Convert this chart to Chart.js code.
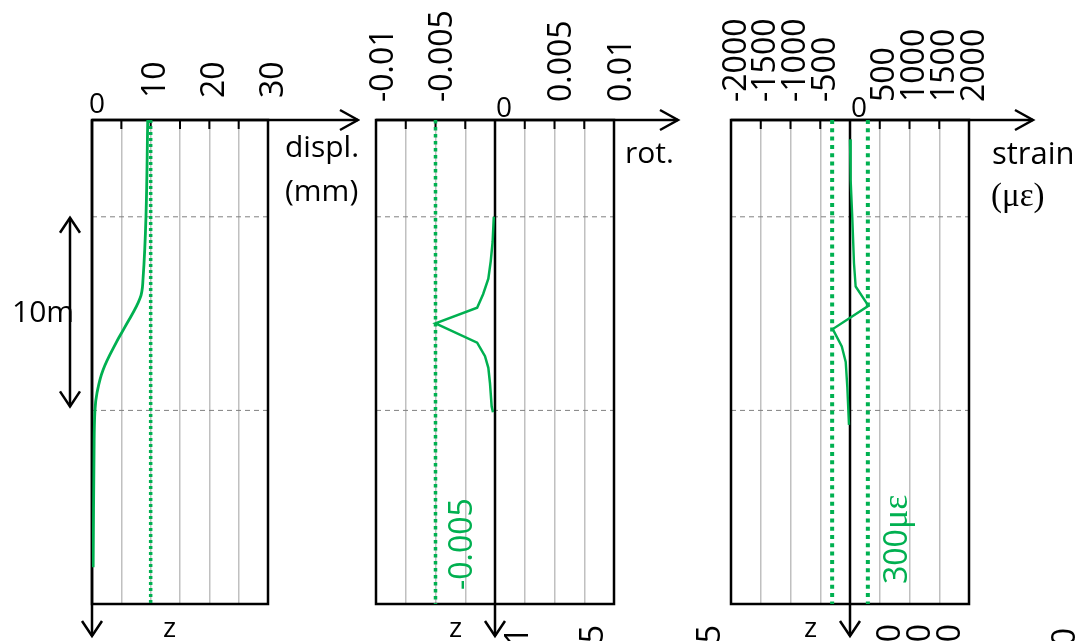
<!DOCTYPE html>
<html>
<head>
<meta charset="utf-8">
<script src="https://cdn.jsdelivr.net/npm/chart.js@4.4.1/dist/chart.umd.min.js"></script>
<style>
  body { margin: 0; width: 1080px; height: 641px; overflow: hidden; background: #fff; position: relative; font-family: 'Open Sans', sans-serif; }
  canvas { position: absolute; top: 0; }
  .t { position: absolute; line-height: 1; white-space: nowrap; color: #000; font-size: 30px; }
  .r { transform-origin: 0 0; transform: rotate(-90deg); }
  .g { color: #00b050; font-size: 32px; }
  .serif { font-family: 'Liberation Serif', serif; }
  .frag { width: 200px; text-align: right; font-size: 32px; }
</style>
</head>
<body>
<canvas id="c1" width="360" height="641" style="left:0px"></canvas>
<canvas id="c2" width="370" height="641" style="left:330px"></canvas>
<canvas id="c3" width="390" height="641" style="left:690px"></canvas>

<!-- axis names and annotations -->
<div class="t" style="left:285px;top:131px">displ.</div>
<div class="t" style="left:285px;top:175px">(mm)</div>
<div class="t" style="left:625px;top:137px">rot.</div>
<div class="t" style="left:992px;top:137px;font-size:31px">strain</div>
<div class="t serif" style="left:991px;top:179px;font-size:33px">(με)</div>
<div class="t" style="left:12px;top:296px">10m</div>
<div class="t" style="left:89px;top:88px;font-size:28px">0</div>
<div class="t" style="left:496px;top:92px;font-size:28px">0</div>
<div class="t" style="left:851px;top:92px;font-size:28px">0</div>
<div class="t" style="left:163px;top:612px;font-size:28px">z</div>
<div class="t" style="left:449px;top:612px;font-size:28px">z</div>
<div class="t" style="left:804px;top:612px;font-size:28px">z</div>
<div class="t r g" style="left:444px;top:590px">-0.005</div>
<div class="t r g" style="left:877px;top:584px">300<span class="serif" style="font-size:36px">με</span></div>

<!-- labels of the next row, cut off by the bottom edge -->
<div class="t r frag" style="left:500px;top:827px">0.01</div>
<div class="t r frag" style="left:575px;top:825px">-0.005</div>
<div class="t r frag" style="left:692px;top:825px">0.005</div>
<div class="t r frag" style="left:872px;top:824px">500</div>
<div class="t r frag" style="left:902px;top:824px">1000</div>
<div class="t r frag" style="left:932px;top:824px">1500</div>
<div class="t r frag" style="left:1047px;top:828px">2000</div>

<script>
// depth axis (m), shared by the three panels
const depthRange = [0, 25];
const zoneDepths = [5, 15];

// displacement (mm) against depth
const displDepth = [0, 5, 8.2, 9.2, 10.7, 11.4, 12.9, 14.1, 15, 17.1, 23.1];
const displValue = [9.5, 9.2, 8.7, 8.2, 5.6, 4.3, 1.9, 0.85, 0.5, 0.35, 0.2];
const displLimit = [10];
const displTicks = [10, 20, 30];

// rotation against depth
const rotDepth = [5, 6.3, 7.3, 8.2, 9.0, 9.7, 10.5, 11.5, 12.2, 12.8, 13.6, 14.8, 15.1];
const rotValue = [-0.0001, -0.0002, -0.00036, -0.00056, -0.001, -0.0015, -0.005, -0.0015, -0.00084, -0.00056, -0.00042, -0.00028, -0.00017];
const rotLimit = [-0.005];
const rotTicks = [-0.01, -0.005, 0.005, 0.01];

// strain (micro strain) against depth
const strainDepth = [1.0, 3.1, 5.0, 7.4, 8.6, 9.6, 10.8, 11.7, 12.5, 13.8, 15.75];
const strainValue = [0, 11, 38, 67, 95, 310, -290, -138, -72, -45, -17];
const strainLimit = [-300, 300];
const strainTicks = [-2000, -1500, -1000, -500, 500, 1000, 1500, 2000];

const GREEN = '#00b050';
Chart.defaults.font.family = "'Open Sans', sans-serif";

function line(ctx, x1, y1, x2, y2) {
  ctx.beginPath(); ctx.moveTo(x1, y1); ctx.lineTo(x2, y2); ctx.stroke();
}
function chevron(ctx, x, y, dx, dy, w) {
  // open arrow head pointing along (dx,dy)
  ctx.beginPath();
  if (dx) { ctx.moveTo(x - dx * 18, y - w); ctx.lineTo(x, y); ctx.lineTo(x - dx * 18, y + w); }
  else { ctx.moveTo(x - w, y - dy * 15); ctx.lineTo(x, y); ctx.lineTo(x + w, y - dy * 15); }
  ctx.stroke();
}

const frame = {
  id: 'frame',
  afterDatasetDraw(chart, args) {
    if (args.index !== chart.options.plugins.frame.after) return;
    const ctx = chart.ctx, a = chart.chartArea;
    const xs = chart.scales.x, ys = chart.scales.y;
    const o = chart.options.plugins.frame;
    ctx.save();
    ctx.strokeStyle = '#000';
    ctx.lineWidth = 2.5;
    ctx.strokeRect(a.left, a.top, a.right - a.left, a.bottom - a.top);
    // short ticks inside the top edge
    ctx.lineWidth = 2;
    xs.ticks.forEach(t => {
      const px = xs.getPixelForValue(t.value);
      line(ctx, px, a.top, px, a.top + 9);
    });
    ctx.lineWidth = 2.5;
    // value axis with arrow
    const tip = a.right + o.ext;
    line(ctx, a.left, a.top, tip, a.top);
    chevron(ctx, tip, a.top, 1, 0, 10);
    // depth axis z through zero
    const zx = xs.getPixelForValue(0);
    line(ctx, zx, a.top, zx, chart.height - 5);
    chevron(ctx, zx, chart.height - 5, 0, 1, 10);
    if (o.span) {
      // 10 m double arrow between the two zone depths
      const y1 = ys.getPixelForValue(zoneDepths[0]) + 1;
      const y2 = ys.getPixelForValue(zoneDepths[1]) - 4;
      line(ctx, o.span, y1, o.span, y2);
      chevron(ctx, o.span, y1, 0, -1, 10);
      chevron(ctx, o.span, y2, 0, 1, 10);
    }
    ctx.restore();
  }
};

function panel(id, p) {
  const pts = (vals, deps) => vals.map((v, i) => ({ x: v, y: deps[i] }));
  const datasets = [{
    data: pts(p.values, p.depths),
    borderColor: GREEN, borderWidth: p.width, tension: p.tension
  }];
  p.limits.forEach(l => datasets.push({
    data: [{ x: l, y: depthRange[0] }, { x: l, y: depthRange[1] }],
    borderColor: GREEN, borderWidth: p.dotWidth, borderDash: p.dash
  }));
  const firstZone = datasets.length;
  zoneDepths.forEach(d => datasets.push({
    data: [{ x: p.min, y: d }, { x: p.max, y: d }],
    borderColor: '#808080', borderWidth: 1, borderDash: [5, 4]
  }));
  datasets.forEach(d => { d.showLine = true; d.pointRadius = 0; d.fill = false; });

  return new Chart(document.getElementById(id), {
    type: 'scatter',
    data: { datasets },
    options: {
      responsive: false,
      animation: false,
      events: [],
      layout: { padding: { left: p.padLeft, right: p.padRight, top: 0, bottom: 37 } },
      plugins: {
        legend: { display: false },
        tooltip: { enabled: false },
        frame: { after: firstZone, ext: p.ext, span: p.span }
      },
      scales: {
        x: {
          type: 'linear', position: 'top', min: p.min, max: p.max,
          grid: { color: '#c0c0c0', lineWidth: 1.5, drawTicks: false },
          border: { display: false },
          ticks: {
            stepSize: p.step, autoSkip: false, minRotation: 90, maxRotation: 90,
            padding: p.tickPad, labelOffset: p.labelOffset, color: '#000',
            font: { size: 32 },
            callback: v => {
              const t = p.labels.find(l => Math.abs(l - v) < p.step / 100);
              return t === undefined ? '' : String(t);
            }
          },
          afterFit: s => { s.height = 120; s.paddingLeft = 0; s.paddingRight = 0; }
        },
        y: { type: 'linear', reverse: true, min: depthRange[0], max: depthRange[1], display: false }
      }
    },
    plugins: [frame]
  });
}

panel('c1', {
  depths: displDepth, values: displValue, limits: displLimit, labels: displTicks,
  min: 0, max: 30, step: 5, padLeft: 92, padRight: 92, ext: 90, span: 70,
  width: 2.8, tension: 0.4, dotWidth: 3.5, dash: [3, 3], tickPad: 22, labelOffset: 44
});
panel('c2', {
  depths: rotDepth, values: rotValue, limits: rotLimit, labels: rotTicks,
  min: -0.01, max: 0.01, step: 0.0025, padLeft: 46, padRight: 86, ext: 64,
  width: 2.5, tension: 0, dotWidth: 3.5, dash: [3.5, 3.5], tickPad: 18, labelOffset: 46
});
panel('c3', {
  depths: strainDepth, values: strainValue, limits: strainLimit, labels: strainTicks,
  min: -2000, max: 2000, step: 500, padLeft: 41, padRight: 111, ext: 64,
  width: 2.4, tension: 0, dotWidth: 4, dash: [4, 4.3], tickPad: 18, labelOffset: 44
});
</script>
</body>
</html>
